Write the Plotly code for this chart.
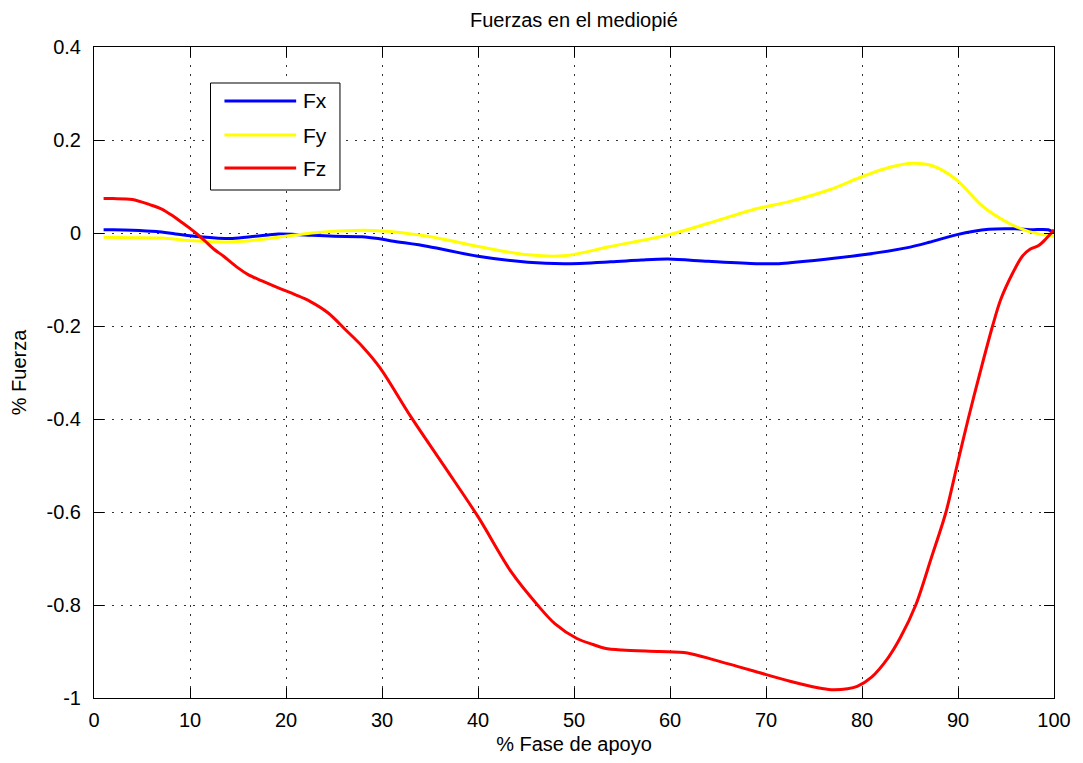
import plotly.graph_objects as go

# ---------------- data ----------------
fx_x = [1, 2, 4, 6.5, 8.5, 11, 14.4, 16.8, 19.2, 21, 22.7, 25, 27.9, 29.6, 31, 34.8, 40, 45.2, 49,
        53.8, 57, 59.8, 64, 69, 71.1, 72.5, 76, 80.1, 84.6, 87, 89.8, 93.2, 96, 97.5, 99.4, 100]
fx_y = [0.007, 0.007, 0.006, 0.003, -0.002, -0.008, -0.012, -0.007, -0.002, -0.003, -0.005, -0.007,
        -0.008, -0.012, -0.017, -0.029, -0.05, -0.063, -0.066, -0.062, -0.058, -0.056, -0.061,
        -0.066, -0.066, -0.064, -0.057, -0.047, -0.032, -0.02, -0.004, 0.008, 0.009, 0.007, 0.007, 0.001]

fy_x = [1, 4, 7.1, 9.9, 13, 15.4, 19.2, 22.7, 26.2, 29.6, 34.8, 40, 45.2, 49, 53.8, 59.8, 64,
        69, 72.5, 76.6, 80.1, 82.8, 85.3, 87.4, 89.8, 92.6, 95.3, 97.4, 100]
fy_y = [-0.009, -0.010, -0.011, -0.016, -0.019, -0.018, -0.009, 0.0, 0.005, 0.005, -0.007, -0.029,
        -0.047, -0.049, -0.029, -0.004, 0.021, 0.052, 0.068, 0.093, 0.122, 0.141, 0.150, 0.144,
        0.115, 0.057, 0.021, 0.003, -0.007]

fz_x = [1, 2, 4, 5.8, 7, 8.2, 9.2, 10, 10.6, 11.5, 12.5, 13.5, 15, 16.1, 17.5, 19.2, 21, 22.5,
        24.4, 26.2, 28, 29.8, 33, 36.5, 40, 43.5, 46.2, 48, 50.3, 52, 53.2, 55, 58.9, 61.8, 64.6,
        67, 68.9, 72.5, 75.4, 76.8, 78.5, 79.5, 81, 82.7, 84, 85.6, 87.2, 88.75, 89.9, 91.06, 92.3,
        93.6, 94.45, 95.7, 96.7, 97.5, 98.4, 99.1, 100]
fz_y = [0.074, 0.074, 0.072, 0.061, 0.052, 0.037, 0.022, 0.01, 0.0, -0.016, -0.035, -0.05,
        -0.075, -0.09, -0.103, -0.118, -0.133, -0.147, -0.172, -0.208, -0.245, -0.29, -0.395,
        -0.502, -0.61, -0.73, -0.80, -0.84, -0.872, -0.885, -0.893, -0.897, -0.90, -0.903, -0.918,
        -0.932, -0.943, -0.964, -0.978, -0.982, -0.98, -0.975, -0.955, -0.914, -0.87, -0.80, -0.70,
        -0.60, -0.50, -0.40, -0.30, -0.20, -0.143, -0.086, -0.05, -0.035, -0.027, -0.014, 0.007]

series_names = ["Fx", "Fy", "Fz"]
series_colors = ["#0000ff", "#ffff00", "#ff0000"]

x_ticks = [0, 10, 20, 30, 40, 50, 60, 70, 80, 90, 100]
y_ticks = [0.4, 0.2, 0, -0.2, -0.4, -0.6, -0.8, -1]
y_tick_text = ["0.4", "0.2", "0", "-0.2", "-0.4", "-0.6", "-0.8", "-1"]

title_text = "Fuerzas en el mediopié"
x_title = "% Fase de apoyo"
y_title = "% Fuerza"

# ---------------- figure ----------------
FONT = "Liberation Sans, Arial, sans-serif"
fig = go.Figure()
for xs, ys, name, col in zip([fx_x, fy_x, fz_x], [fx_y, fy_y, fz_y], series_names, series_colors):
    fig.add_trace(go.Scatter(x=xs, y=ys, mode="lines", name=name,
                             line=dict(color=col, width=3, shape="spline", smoothing=0.9),
                             showlegend=False))

axis_common = dict(showline=True, linecolor="black", linewidth=1, mirror="ticks",
                   ticks="inside", ticklen=10, tickcolor="black", tickwidth=1,
                   showgrid=True, gridcolor="#333333", gridwidth=1, griddash="2px,7px",
                   zeroline=False, tickfont=dict(family=FONT, size=20, color="black"))

fig.update_xaxes(range=[0, 100], tickvals=x_ticks, ticklabelstandoff=4,
                 title=dict(text=x_title, font=dict(family=FONT, size=20, color="black"), standoff=6),
                 **axis_common)
fig.update_yaxes(range=[-1, 0.4], tickvals=y_ticks, ticktext=y_tick_text, ticklabelstandoff=8,
                 title=dict(text=y_title, font=dict(family=FONT, size=20, color="black"), standoff=14),
                 **axis_common)

# legend drawn manually (box, samples, labels)
L, R, T, B = 94, 1058, 47, 698
def px(x):
    return (x - L) / (R - L)
def py(y):
    return (B - y) / (B - T)

fig.add_shape(type="rect", xref="paper", yref="paper", x0=px(211), x1=px(341), y0=py(190), y1=py(83),
              line=dict(color="black", width=1), fillcolor="white", layer="above")
for name, col, yy in zip(series_names, series_colors, [101, 135, 168]):
    fig.add_shape(type="line", xref="paper", yref="paper", x0=px(225), x1=px(297), y0=py(yy), y1=py(yy),
                  line=dict(color=col, width=3), layer="above")
    fig.add_annotation(xref="paper", yref="paper", x=px(302), y=py(yy), text=name, showarrow=False,
                       xanchor="left", yanchor="middle", font=dict(family=FONT, size=21, color="black"))

fig.update_layout(
    width=1083, height=763,
    margin=dict(l=L, r=1083 - R, t=T, b=763 - B),
    paper_bgcolor="white", plot_bgcolor="white",
    title=dict(text=title_text, x=0.53, xanchor="center", y=1 - 20 / 763, yanchor="middle",
               font=dict(family=FONT, size=20, color="black")),
)

fig.write_html("out.html")
